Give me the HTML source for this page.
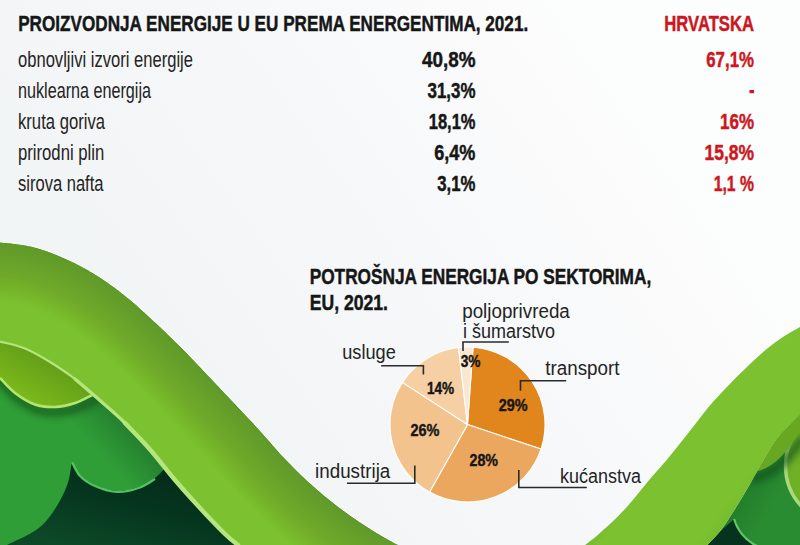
<!DOCTYPE html>
<html><head><meta charset="utf-8"><title>Energija EU 2021</title>
<style>
html,body{margin:0;padding:0;background:#f4f6f7;}
body{width:800px;height:545px;overflow:hidden;font-family:"Liberation Sans",sans-serif;}
svg{display:block;}
text{font-family:"Liberation Sans",sans-serif;}
.b{font-weight:bold;fill:#161616;stroke:#161616;stroke-width:0.45px;}
.r{font-weight:bold;fill:#cc1720;stroke:#cc1720;stroke-width:0.45px;}
.l{font-weight:normal;fill:#242424;}
</style></head><body>
<svg width="800" height="545" viewBox="0 0 800 545">
<defs>
<linearGradient id="bg" gradientUnits="userSpaceOnUse" x1="150" y1="470" x2="680" y2="90">
<stop offset="0" stop-color="#f1f4f5"/><stop offset="0.45" stop-color="#f5f7f8"/><stop offset="0.8" stop-color="#fbfbfc"/><stop offset="1" stop-color="#fcfdfd"/>
</linearGradient>
<linearGradient id="bandL" gradientUnits="userSpaceOnUse" x1="250" y1="330" x2="150" y2="440">
<stop offset="0" stop-color="#5c9a27"/><stop offset="0.45" stop-color="#6fae2b"/><stop offset="0.75" stop-color="#7cc230"/><stop offset="1" stop-color="#7cc230"/>
</linearGradient>
<linearGradient id="leafL" gradientUnits="userSpaceOnUse" x1="28" y1="405" x2="62" y2="348">
<stop offset="0" stop-color="#7dbb1c"/><stop offset="1" stop-color="#5a9417"/>
</linearGradient>
<linearGradient id="midL" gradientUnits="userSpaceOnUse" x1="60" y1="520" x2="160" y2="430">
<stop offset="0" stop-color="#2f9e37"/><stop offset="0.55" stop-color="#2f9e37"/><stop offset="1" stop-color="#1f6f2a"/>
</linearGradient>
<linearGradient id="darkL" gradientUnits="userSpaceOnUse" x1="150" y1="465" x2="125" y2="560">
<stop offset="0" stop-color="#032b1a"/><stop offset="0.5" stop-color="#06371f"/><stop offset="1" stop-color="#0c4927"/>
</linearGradient>
</defs>
<rect width="800" height="545" fill="url(#bg)"/>

<path d="M0.0,341.5 C4.2,342.7 16.7,345.1 25.0,348.5 C33.3,351.9 41.7,356.9 50.0,362.0 C58.3,367.1 66.7,372.6 75.0,379.0 C83.3,385.4 91.7,393.2 100.0,400.5 C108.3,407.8 116.7,414.8 125.0,423.0 C133.3,431.2 141.7,440.0 150.0,449.5 C158.3,459.0 166.7,470.2 175.0,480.0 C183.3,489.8 191.7,499.0 200.0,508.0 C208.3,517.0 218.7,527.8 225.0,534.0 C231.3,540.2 235.8,543.2 238.0,545.0 L238,545 L0,545 Z" fill="url(#midL)"/>
<path d="M7.0,545.0 C12.1,542.3 29.5,535.0 37.5,529.0 C45.5,523.0 50.0,516.5 55.0,509.0 C60.0,501.5 64.7,492.0 67.5,484.0 C70.3,476.0 71.2,464.8 72.0,461.0  C73.3,463.3 76.2,471.0 80.0,475.0 C83.8,479.0 88.8,482.3 95.0,485.0 C101.2,487.7 110.0,490.8 117.5,491.0 C125.0,491.2 133.8,488.7 140.0,486.5 C146.2,484.3 151.0,480.9 155.0,478.0 C159.0,475.1 162.5,470.5 164.0,469.0 L238,545 Z" fill="url(#darkL)"/>
<path d="M72.0,462.0 C73.3,464.3 76.2,472.0 80.0,476.0 C83.8,480.0 88.8,483.3 95.0,486.0 C101.2,488.7 110.0,491.8 117.5,492.0 C125.0,492.2 133.8,489.7 140.0,487.5 C146.2,485.3 152.5,480.4 155.0,479.0" fill="none" stroke="#5fd06c" stroke-width="2.2" opacity="0.9"/>
<filter id="bl4" x="-20%" y="-50%" width="140%" height="200%"><feGaussianBlur stdDeviation="3.5"/></filter>
<path d="M-10.0,365.0 C-8.3,367.2 -4.2,373.3 0.0,378.0 C4.2,382.7 9.2,388.6 15.0,393.0 C20.8,397.4 28.3,402.2 35.0,404.5 C41.7,406.8 48.3,407.2 55.0,407.0 C61.7,406.8 68.7,405.1 75.0,403.0 C81.3,400.9 88.2,398.3 93.0,394.5 C97.8,390.7 102.2,382.4 104.0,380.0" fill="none" stroke="#14561f" stroke-width="9" opacity="0.75" filter="url(#bl4)" transform="translate(2,5)"/>
<path d="M0,341  C4.2,342.7 16.7,345.1 25.0,348.5 C33.3,351.9 41.7,356.9 50.0,362.0 C58.3,367.1 66.7,372.6 75.0,379.0 C83.3,385.4 95.8,396.9 100.0,400.5 L93,394.5 L93.0,394.5 L75.0,403.0 L55.0,407.0 L35.0,404.5 L15.0,393.0 L0.0,378.0 Z" fill="url(#leafL)"/>
<path d="M0.0,378.0 C2.5,380.5 9.2,388.6 15.0,393.0 C20.8,397.4 28.3,402.2 35.0,404.5 C41.7,406.8 48.3,407.2 55.0,407.0 C61.7,406.8 68.7,405.1 75.0,403.0 C81.3,400.9 90.0,395.9 93.0,394.5" fill="none" stroke="#b4e66e" stroke-width="2.6"/>
<clipPath id="cbL"><path d="M0.0,242.5 C4.2,243.0 16.7,243.8 25.0,245.5 C33.3,247.2 40.8,249.1 50.0,252.5 C59.2,255.9 70.8,261.2 80.0,266.0 C89.2,270.8 96.7,275.3 105.0,281.0 C113.3,286.7 121.7,293.1 130.0,300.0 C138.3,306.9 146.7,314.8 155.0,322.5 C163.3,330.2 171.7,338.2 180.0,346.5 C188.3,354.8 196.7,363.8 205.0,372.5 C213.3,381.2 221.7,390.2 230.0,399.0 C238.3,407.8 245.8,415.5 255.0,425.5 C264.2,435.5 275.8,449.3 285.0,459.0 C294.2,468.7 301.7,475.9 310.0,483.5 C318.3,491.1 326.7,498.0 335.0,504.5 C343.3,511.0 351.7,516.9 360.0,522.5 C368.3,528.1 378.7,534.2 385.0,538.0 C391.3,541.8 395.8,543.8 398.0,545.0 L238,545 C235.8,543.2 231.3,540.2 225.0,534.0 C218.7,527.8 208.3,517.0 200.0,508.0 C191.7,499.0 183.3,489.8 175.0,480.0 C166.7,470.2 158.3,459.0 150.0,449.5 C141.7,440.0 133.3,431.2 125.0,423.0 C116.7,414.8 108.3,407.8 100.0,400.5 C91.7,393.2 83.3,385.4 75.0,379.0 C66.7,372.6 58.3,367.1 50.0,362.0 C41.7,356.9 33.3,351.9 25.0,348.5 C16.7,345.1 4.2,342.7 0.0,341.5 Z"/></clipPath>
<path d="M0.0,242.5 C4.2,243.0 16.7,243.8 25.0,245.5 C33.3,247.2 40.8,249.1 50.0,252.5 C59.2,255.9 70.8,261.2 80.0,266.0 C89.2,270.8 96.7,275.3 105.0,281.0 C113.3,286.7 121.7,293.1 130.0,300.0 C138.3,306.9 146.7,314.8 155.0,322.5 C163.3,330.2 171.7,338.2 180.0,346.5 C188.3,354.8 196.7,363.8 205.0,372.5 C213.3,381.2 221.7,390.2 230.0,399.0 C238.3,407.8 245.8,415.5 255.0,425.5 C264.2,435.5 275.8,449.3 285.0,459.0 C294.2,468.7 301.7,475.9 310.0,483.5 C318.3,491.1 326.7,498.0 335.0,504.5 C343.3,511.0 351.7,516.9 360.0,522.5 C368.3,528.1 378.7,534.2 385.0,538.0 C391.3,541.8 395.8,543.8 398.0,545.0" fill="none" stroke="#ffffff" stroke-width="2" opacity="0.7"/>
<path d="M0.0,242.5 C4.2,243.0 16.7,243.8 25.0,245.5 C33.3,247.2 40.8,249.1 50.0,252.5 C59.2,255.9 70.8,261.2 80.0,266.0 C89.2,270.8 96.7,275.3 105.0,281.0 C113.3,286.7 121.7,293.1 130.0,300.0 C138.3,306.9 146.7,314.8 155.0,322.5 C163.3,330.2 171.7,338.2 180.0,346.5 C188.3,354.8 196.7,363.8 205.0,372.5 C213.3,381.2 221.7,390.2 230.0,399.0 C238.3,407.8 245.8,415.5 255.0,425.5 C264.2,435.5 275.8,449.3 285.0,459.0 C294.2,468.7 301.7,475.9 310.0,483.5 C318.3,491.1 326.7,498.0 335.0,504.5 C343.3,511.0 351.7,516.9 360.0,522.5 C368.3,528.1 378.7,534.2 385.0,538.0 C391.3,541.8 395.8,543.8 398.0,545.0 L238,545 C235.8,543.2 231.3,540.2 225.0,534.0 C218.7,527.8 208.3,517.0 200.0,508.0 C191.7,499.0 183.3,489.8 175.0,480.0 C166.7,470.2 158.3,459.0 150.0,449.5 C141.7,440.0 133.3,431.2 125.0,423.0 C116.7,414.8 108.3,407.8 100.0,400.5 C91.7,393.2 83.3,385.4 75.0,379.0 C66.7,372.6 58.3,367.1 50.0,362.0 C41.7,356.9 33.3,351.9 25.0,348.5 C16.7,345.1 4.2,342.7 0.0,341.5 Z" fill="#7cc230"/>
<g clip-path="url(#cbL)">
<path d="M-40.0,240.0 C-33.3,240.4 -10.8,241.6 0.0,242.5 C10.8,243.4 16.7,243.8 25.0,245.5 C33.3,247.2 40.8,249.1 50.0,252.5 C59.2,255.9 70.8,261.2 80.0,266.0 C89.2,270.8 96.7,275.3 105.0,281.0 C113.3,286.7 121.7,293.1 130.0,300.0 C138.3,306.9 146.7,314.8 155.0,322.5 C163.3,330.2 171.7,338.2 180.0,346.5 C188.3,354.8 196.7,363.8 205.0,372.5 C213.3,381.2 221.7,390.2 230.0,399.0 C238.3,407.8 245.8,415.5 255.0,425.5 C264.2,435.5 275.8,449.3 285.0,459.0 C294.2,468.7 301.7,475.9 310.0,483.5 C318.3,491.1 326.7,498.0 335.0,504.5 C343.3,511.0 351.7,516.9 360.0,522.5 C368.3,528.1 378.7,534.2 385.0,538.0 C391.3,541.8 392.2,541.3 398.0,545.0 C403.8,548.7 416.3,557.5 420.0,560.0" fill="none" stroke="#4f8c22" stroke-width="116.0" opacity="0.022"/>
<path d="M-40.0,240.0 C-33.3,240.4 -10.8,241.6 0.0,242.5 C10.8,243.4 16.7,243.8 25.0,245.5 C33.3,247.2 40.8,249.1 50.0,252.5 C59.2,255.9 70.8,261.2 80.0,266.0 C89.2,270.8 96.7,275.3 105.0,281.0 C113.3,286.7 121.7,293.1 130.0,300.0 C138.3,306.9 146.7,314.8 155.0,322.5 C163.3,330.2 171.7,338.2 180.0,346.5 C188.3,354.8 196.7,363.8 205.0,372.5 C213.3,381.2 221.7,390.2 230.0,399.0 C238.3,407.8 245.8,415.5 255.0,425.5 C264.2,435.5 275.8,449.3 285.0,459.0 C294.2,468.7 301.7,475.9 310.0,483.5 C318.3,491.1 326.7,498.0 335.0,504.5 C343.3,511.0 351.7,516.9 360.0,522.5 C368.3,528.1 378.7,534.2 385.0,538.0 C391.3,541.8 392.2,541.3 398.0,545.0 C403.8,548.7 416.3,557.5 420.0,560.0" fill="none" stroke="#4f8c22" stroke-width="111.9" opacity="0.022"/>
<path d="M-40.0,240.0 C-33.3,240.4 -10.8,241.6 0.0,242.5 C10.8,243.4 16.7,243.8 25.0,245.5 C33.3,247.2 40.8,249.1 50.0,252.5 C59.2,255.9 70.8,261.2 80.0,266.0 C89.2,270.8 96.7,275.3 105.0,281.0 C113.3,286.7 121.7,293.1 130.0,300.0 C138.3,306.9 146.7,314.8 155.0,322.5 C163.3,330.2 171.7,338.2 180.0,346.5 C188.3,354.8 196.7,363.8 205.0,372.5 C213.3,381.2 221.7,390.2 230.0,399.0 C238.3,407.8 245.8,415.5 255.0,425.5 C264.2,435.5 275.8,449.3 285.0,459.0 C294.2,468.7 301.7,475.9 310.0,483.5 C318.3,491.1 326.7,498.0 335.0,504.5 C343.3,511.0 351.7,516.9 360.0,522.5 C368.3,528.1 378.7,534.2 385.0,538.0 C391.3,541.8 392.2,541.3 398.0,545.0 C403.8,548.7 416.3,557.5 420.0,560.0" fill="none" stroke="#4f8c22" stroke-width="107.7" opacity="0.022"/>
<path d="M-40.0,240.0 C-33.3,240.4 -10.8,241.6 0.0,242.5 C10.8,243.4 16.7,243.8 25.0,245.5 C33.3,247.2 40.8,249.1 50.0,252.5 C59.2,255.9 70.8,261.2 80.0,266.0 C89.2,270.8 96.7,275.3 105.0,281.0 C113.3,286.7 121.7,293.1 130.0,300.0 C138.3,306.9 146.7,314.8 155.0,322.5 C163.3,330.2 171.7,338.2 180.0,346.5 C188.3,354.8 196.7,363.8 205.0,372.5 C213.3,381.2 221.7,390.2 230.0,399.0 C238.3,407.8 245.8,415.5 255.0,425.5 C264.2,435.5 275.8,449.3 285.0,459.0 C294.2,468.7 301.7,475.9 310.0,483.5 C318.3,491.1 326.7,498.0 335.0,504.5 C343.3,511.0 351.7,516.9 360.0,522.5 C368.3,528.1 378.7,534.2 385.0,538.0 C391.3,541.8 392.2,541.3 398.0,545.0 C403.8,548.7 416.3,557.5 420.0,560.0" fill="none" stroke="#4f8c22" stroke-width="103.6" opacity="0.022"/>
<path d="M-40.0,240.0 C-33.3,240.4 -10.8,241.6 0.0,242.5 C10.8,243.4 16.7,243.8 25.0,245.5 C33.3,247.2 40.8,249.1 50.0,252.5 C59.2,255.9 70.8,261.2 80.0,266.0 C89.2,270.8 96.7,275.3 105.0,281.0 C113.3,286.7 121.7,293.1 130.0,300.0 C138.3,306.9 146.7,314.8 155.0,322.5 C163.3,330.2 171.7,338.2 180.0,346.5 C188.3,354.8 196.7,363.8 205.0,372.5 C213.3,381.2 221.7,390.2 230.0,399.0 C238.3,407.8 245.8,415.5 255.0,425.5 C264.2,435.5 275.8,449.3 285.0,459.0 C294.2,468.7 301.7,475.9 310.0,483.5 C318.3,491.1 326.7,498.0 335.0,504.5 C343.3,511.0 351.7,516.9 360.0,522.5 C368.3,528.1 378.7,534.2 385.0,538.0 C391.3,541.8 392.2,541.3 398.0,545.0 C403.8,548.7 416.3,557.5 420.0,560.0" fill="none" stroke="#4f8c22" stroke-width="99.4" opacity="0.022"/>
<path d="M-40.0,240.0 C-33.3,240.4 -10.8,241.6 0.0,242.5 C10.8,243.4 16.7,243.8 25.0,245.5 C33.3,247.2 40.8,249.1 50.0,252.5 C59.2,255.9 70.8,261.2 80.0,266.0 C89.2,270.8 96.7,275.3 105.0,281.0 C113.3,286.7 121.7,293.1 130.0,300.0 C138.3,306.9 146.7,314.8 155.0,322.5 C163.3,330.2 171.7,338.2 180.0,346.5 C188.3,354.8 196.7,363.8 205.0,372.5 C213.3,381.2 221.7,390.2 230.0,399.0 C238.3,407.8 245.8,415.5 255.0,425.5 C264.2,435.5 275.8,449.3 285.0,459.0 C294.2,468.7 301.7,475.9 310.0,483.5 C318.3,491.1 326.7,498.0 335.0,504.5 C343.3,511.0 351.7,516.9 360.0,522.5 C368.3,528.1 378.7,534.2 385.0,538.0 C391.3,541.8 392.2,541.3 398.0,545.0 C403.8,548.7 416.3,557.5 420.0,560.0" fill="none" stroke="#4f8c22" stroke-width="95.3" opacity="0.022"/>
<path d="M-40.0,240.0 C-33.3,240.4 -10.8,241.6 0.0,242.5 C10.8,243.4 16.7,243.8 25.0,245.5 C33.3,247.2 40.8,249.1 50.0,252.5 C59.2,255.9 70.8,261.2 80.0,266.0 C89.2,270.8 96.7,275.3 105.0,281.0 C113.3,286.7 121.7,293.1 130.0,300.0 C138.3,306.9 146.7,314.8 155.0,322.5 C163.3,330.2 171.7,338.2 180.0,346.5 C188.3,354.8 196.7,363.8 205.0,372.5 C213.3,381.2 221.7,390.2 230.0,399.0 C238.3,407.8 245.8,415.5 255.0,425.5 C264.2,435.5 275.8,449.3 285.0,459.0 C294.2,468.7 301.7,475.9 310.0,483.5 C318.3,491.1 326.7,498.0 335.0,504.5 C343.3,511.0 351.7,516.9 360.0,522.5 C368.3,528.1 378.7,534.2 385.0,538.0 C391.3,541.8 392.2,541.3 398.0,545.0 C403.8,548.7 416.3,557.5 420.0,560.0" fill="none" stroke="#4f8c22" stroke-width="91.1" opacity="0.022"/>
<path d="M-40.0,240.0 C-33.3,240.4 -10.8,241.6 0.0,242.5 C10.8,243.4 16.7,243.8 25.0,245.5 C33.3,247.2 40.8,249.1 50.0,252.5 C59.2,255.9 70.8,261.2 80.0,266.0 C89.2,270.8 96.7,275.3 105.0,281.0 C113.3,286.7 121.7,293.1 130.0,300.0 C138.3,306.9 146.7,314.8 155.0,322.5 C163.3,330.2 171.7,338.2 180.0,346.5 C188.3,354.8 196.7,363.8 205.0,372.5 C213.3,381.2 221.7,390.2 230.0,399.0 C238.3,407.8 245.8,415.5 255.0,425.5 C264.2,435.5 275.8,449.3 285.0,459.0 C294.2,468.7 301.7,475.9 310.0,483.5 C318.3,491.1 326.7,498.0 335.0,504.5 C343.3,511.0 351.7,516.9 360.0,522.5 C368.3,528.1 378.7,534.2 385.0,538.0 C391.3,541.8 392.2,541.3 398.0,545.0 C403.8,548.7 416.3,557.5 420.0,560.0" fill="none" stroke="#4f8c22" stroke-width="87.0" opacity="0.022"/>
<path d="M-40.0,240.0 C-33.3,240.4 -10.8,241.6 0.0,242.5 C10.8,243.4 16.7,243.8 25.0,245.5 C33.3,247.2 40.8,249.1 50.0,252.5 C59.2,255.9 70.8,261.2 80.0,266.0 C89.2,270.8 96.7,275.3 105.0,281.0 C113.3,286.7 121.7,293.1 130.0,300.0 C138.3,306.9 146.7,314.8 155.0,322.5 C163.3,330.2 171.7,338.2 180.0,346.5 C188.3,354.8 196.7,363.8 205.0,372.5 C213.3,381.2 221.7,390.2 230.0,399.0 C238.3,407.8 245.8,415.5 255.0,425.5 C264.2,435.5 275.8,449.3 285.0,459.0 C294.2,468.7 301.7,475.9 310.0,483.5 C318.3,491.1 326.7,498.0 335.0,504.5 C343.3,511.0 351.7,516.9 360.0,522.5 C368.3,528.1 378.7,534.2 385.0,538.0 C391.3,541.8 392.2,541.3 398.0,545.0 C403.8,548.7 416.3,557.5 420.0,560.0" fill="none" stroke="#4f8c22" stroke-width="82.9" opacity="0.022"/>
<path d="M-40.0,240.0 C-33.3,240.4 -10.8,241.6 0.0,242.5 C10.8,243.4 16.7,243.8 25.0,245.5 C33.3,247.2 40.8,249.1 50.0,252.5 C59.2,255.9 70.8,261.2 80.0,266.0 C89.2,270.8 96.7,275.3 105.0,281.0 C113.3,286.7 121.7,293.1 130.0,300.0 C138.3,306.9 146.7,314.8 155.0,322.5 C163.3,330.2 171.7,338.2 180.0,346.5 C188.3,354.8 196.7,363.8 205.0,372.5 C213.3,381.2 221.7,390.2 230.0,399.0 C238.3,407.8 245.8,415.5 255.0,425.5 C264.2,435.5 275.8,449.3 285.0,459.0 C294.2,468.7 301.7,475.9 310.0,483.5 C318.3,491.1 326.7,498.0 335.0,504.5 C343.3,511.0 351.7,516.9 360.0,522.5 C368.3,528.1 378.7,534.2 385.0,538.0 C391.3,541.8 392.2,541.3 398.0,545.0 C403.8,548.7 416.3,557.5 420.0,560.0" fill="none" stroke="#4f8c22" stroke-width="78.7" opacity="0.022"/>
<path d="M-40.0,240.0 C-33.3,240.4 -10.8,241.6 0.0,242.5 C10.8,243.4 16.7,243.8 25.0,245.5 C33.3,247.2 40.8,249.1 50.0,252.5 C59.2,255.9 70.8,261.2 80.0,266.0 C89.2,270.8 96.7,275.3 105.0,281.0 C113.3,286.7 121.7,293.1 130.0,300.0 C138.3,306.9 146.7,314.8 155.0,322.5 C163.3,330.2 171.7,338.2 180.0,346.5 C188.3,354.8 196.7,363.8 205.0,372.5 C213.3,381.2 221.7,390.2 230.0,399.0 C238.3,407.8 245.8,415.5 255.0,425.5 C264.2,435.5 275.8,449.3 285.0,459.0 C294.2,468.7 301.7,475.9 310.0,483.5 C318.3,491.1 326.7,498.0 335.0,504.5 C343.3,511.0 351.7,516.9 360.0,522.5 C368.3,528.1 378.7,534.2 385.0,538.0 C391.3,541.8 392.2,541.3 398.0,545.0 C403.8,548.7 416.3,557.5 420.0,560.0" fill="none" stroke="#4f8c22" stroke-width="74.6" opacity="0.022"/>
<path d="M-40.0,240.0 C-33.3,240.4 -10.8,241.6 0.0,242.5 C10.8,243.4 16.7,243.8 25.0,245.5 C33.3,247.2 40.8,249.1 50.0,252.5 C59.2,255.9 70.8,261.2 80.0,266.0 C89.2,270.8 96.7,275.3 105.0,281.0 C113.3,286.7 121.7,293.1 130.0,300.0 C138.3,306.9 146.7,314.8 155.0,322.5 C163.3,330.2 171.7,338.2 180.0,346.5 C188.3,354.8 196.7,363.8 205.0,372.5 C213.3,381.2 221.7,390.2 230.0,399.0 C238.3,407.8 245.8,415.5 255.0,425.5 C264.2,435.5 275.8,449.3 285.0,459.0 C294.2,468.7 301.7,475.9 310.0,483.5 C318.3,491.1 326.7,498.0 335.0,504.5 C343.3,511.0 351.7,516.9 360.0,522.5 C368.3,528.1 378.7,534.2 385.0,538.0 C391.3,541.8 392.2,541.3 398.0,545.0 C403.8,548.7 416.3,557.5 420.0,560.0" fill="none" stroke="#4f8c22" stroke-width="70.4" opacity="0.022"/>
<path d="M-40.0,240.0 C-33.3,240.4 -10.8,241.6 0.0,242.5 C10.8,243.4 16.7,243.8 25.0,245.5 C33.3,247.2 40.8,249.1 50.0,252.5 C59.2,255.9 70.8,261.2 80.0,266.0 C89.2,270.8 96.7,275.3 105.0,281.0 C113.3,286.7 121.7,293.1 130.0,300.0 C138.3,306.9 146.7,314.8 155.0,322.5 C163.3,330.2 171.7,338.2 180.0,346.5 C188.3,354.8 196.7,363.8 205.0,372.5 C213.3,381.2 221.7,390.2 230.0,399.0 C238.3,407.8 245.8,415.5 255.0,425.5 C264.2,435.5 275.8,449.3 285.0,459.0 C294.2,468.7 301.7,475.9 310.0,483.5 C318.3,491.1 326.7,498.0 335.0,504.5 C343.3,511.0 351.7,516.9 360.0,522.5 C368.3,528.1 378.7,534.2 385.0,538.0 C391.3,541.8 392.2,541.3 398.0,545.0 C403.8,548.7 416.3,557.5 420.0,560.0" fill="none" stroke="#4f8c22" stroke-width="66.3" opacity="0.022"/>
<path d="M-40.0,240.0 C-33.3,240.4 -10.8,241.6 0.0,242.5 C10.8,243.4 16.7,243.8 25.0,245.5 C33.3,247.2 40.8,249.1 50.0,252.5 C59.2,255.9 70.8,261.2 80.0,266.0 C89.2,270.8 96.7,275.3 105.0,281.0 C113.3,286.7 121.7,293.1 130.0,300.0 C138.3,306.9 146.7,314.8 155.0,322.5 C163.3,330.2 171.7,338.2 180.0,346.5 C188.3,354.8 196.7,363.8 205.0,372.5 C213.3,381.2 221.7,390.2 230.0,399.0 C238.3,407.8 245.8,415.5 255.0,425.5 C264.2,435.5 275.8,449.3 285.0,459.0 C294.2,468.7 301.7,475.9 310.0,483.5 C318.3,491.1 326.7,498.0 335.0,504.5 C343.3,511.0 351.7,516.9 360.0,522.5 C368.3,528.1 378.7,534.2 385.0,538.0 C391.3,541.8 392.2,541.3 398.0,545.0 C403.8,548.7 416.3,557.5 420.0,560.0" fill="none" stroke="#4f8c22" stroke-width="62.1" opacity="0.022"/>
<path d="M-40.0,240.0 C-33.3,240.4 -10.8,241.6 0.0,242.5 C10.8,243.4 16.7,243.8 25.0,245.5 C33.3,247.2 40.8,249.1 50.0,252.5 C59.2,255.9 70.8,261.2 80.0,266.0 C89.2,270.8 96.7,275.3 105.0,281.0 C113.3,286.7 121.7,293.1 130.0,300.0 C138.3,306.9 146.7,314.8 155.0,322.5 C163.3,330.2 171.7,338.2 180.0,346.5 C188.3,354.8 196.7,363.8 205.0,372.5 C213.3,381.2 221.7,390.2 230.0,399.0 C238.3,407.8 245.8,415.5 255.0,425.5 C264.2,435.5 275.8,449.3 285.0,459.0 C294.2,468.7 301.7,475.9 310.0,483.5 C318.3,491.1 326.7,498.0 335.0,504.5 C343.3,511.0 351.7,516.9 360.0,522.5 C368.3,528.1 378.7,534.2 385.0,538.0 C391.3,541.8 392.2,541.3 398.0,545.0 C403.8,548.7 416.3,557.5 420.0,560.0" fill="none" stroke="#4f8c22" stroke-width="58.0" opacity="0.022"/>
<path d="M-40.0,240.0 C-33.3,240.4 -10.8,241.6 0.0,242.5 C10.8,243.4 16.7,243.8 25.0,245.5 C33.3,247.2 40.8,249.1 50.0,252.5 C59.2,255.9 70.8,261.2 80.0,266.0 C89.2,270.8 96.7,275.3 105.0,281.0 C113.3,286.7 121.7,293.1 130.0,300.0 C138.3,306.9 146.7,314.8 155.0,322.5 C163.3,330.2 171.7,338.2 180.0,346.5 C188.3,354.8 196.7,363.8 205.0,372.5 C213.3,381.2 221.7,390.2 230.0,399.0 C238.3,407.8 245.8,415.5 255.0,425.5 C264.2,435.5 275.8,449.3 285.0,459.0 C294.2,468.7 301.7,475.9 310.0,483.5 C318.3,491.1 326.7,498.0 335.0,504.5 C343.3,511.0 351.7,516.9 360.0,522.5 C368.3,528.1 378.7,534.2 385.0,538.0 C391.3,541.8 392.2,541.3 398.0,545.0 C403.8,548.7 416.3,557.5 420.0,560.0" fill="none" stroke="#4f8c22" stroke-width="53.9" opacity="0.022"/>
<path d="M-40.0,240.0 C-33.3,240.4 -10.8,241.6 0.0,242.5 C10.8,243.4 16.7,243.8 25.0,245.5 C33.3,247.2 40.8,249.1 50.0,252.5 C59.2,255.9 70.8,261.2 80.0,266.0 C89.2,270.8 96.7,275.3 105.0,281.0 C113.3,286.7 121.7,293.1 130.0,300.0 C138.3,306.9 146.7,314.8 155.0,322.5 C163.3,330.2 171.7,338.2 180.0,346.5 C188.3,354.8 196.7,363.8 205.0,372.5 C213.3,381.2 221.7,390.2 230.0,399.0 C238.3,407.8 245.8,415.5 255.0,425.5 C264.2,435.5 275.8,449.3 285.0,459.0 C294.2,468.7 301.7,475.9 310.0,483.5 C318.3,491.1 326.7,498.0 335.0,504.5 C343.3,511.0 351.7,516.9 360.0,522.5 C368.3,528.1 378.7,534.2 385.0,538.0 C391.3,541.8 392.2,541.3 398.0,545.0 C403.8,548.7 416.3,557.5 420.0,560.0" fill="none" stroke="#4f8c22" stroke-width="49.7" opacity="0.022"/>
<path d="M-40.0,240.0 C-33.3,240.4 -10.8,241.6 0.0,242.5 C10.8,243.4 16.7,243.8 25.0,245.5 C33.3,247.2 40.8,249.1 50.0,252.5 C59.2,255.9 70.8,261.2 80.0,266.0 C89.2,270.8 96.7,275.3 105.0,281.0 C113.3,286.7 121.7,293.1 130.0,300.0 C138.3,306.9 146.7,314.8 155.0,322.5 C163.3,330.2 171.7,338.2 180.0,346.5 C188.3,354.8 196.7,363.8 205.0,372.5 C213.3,381.2 221.7,390.2 230.0,399.0 C238.3,407.8 245.8,415.5 255.0,425.5 C264.2,435.5 275.8,449.3 285.0,459.0 C294.2,468.7 301.7,475.9 310.0,483.5 C318.3,491.1 326.7,498.0 335.0,504.5 C343.3,511.0 351.7,516.9 360.0,522.5 C368.3,528.1 378.7,534.2 385.0,538.0 C391.3,541.8 392.2,541.3 398.0,545.0 C403.8,548.7 416.3,557.5 420.0,560.0" fill="none" stroke="#4f8c22" stroke-width="45.6" opacity="0.022"/>
<path d="M-40.0,240.0 C-33.3,240.4 -10.8,241.6 0.0,242.5 C10.8,243.4 16.7,243.8 25.0,245.5 C33.3,247.2 40.8,249.1 50.0,252.5 C59.2,255.9 70.8,261.2 80.0,266.0 C89.2,270.8 96.7,275.3 105.0,281.0 C113.3,286.7 121.7,293.1 130.0,300.0 C138.3,306.9 146.7,314.8 155.0,322.5 C163.3,330.2 171.7,338.2 180.0,346.5 C188.3,354.8 196.7,363.8 205.0,372.5 C213.3,381.2 221.7,390.2 230.0,399.0 C238.3,407.8 245.8,415.5 255.0,425.5 C264.2,435.5 275.8,449.3 285.0,459.0 C294.2,468.7 301.7,475.9 310.0,483.5 C318.3,491.1 326.7,498.0 335.0,504.5 C343.3,511.0 351.7,516.9 360.0,522.5 C368.3,528.1 378.7,534.2 385.0,538.0 C391.3,541.8 392.2,541.3 398.0,545.0 C403.8,548.7 416.3,557.5 420.0,560.0" fill="none" stroke="#4f8c22" stroke-width="41.4" opacity="0.022"/>
<path d="M-40.0,240.0 C-33.3,240.4 -10.8,241.6 0.0,242.5 C10.8,243.4 16.7,243.8 25.0,245.5 C33.3,247.2 40.8,249.1 50.0,252.5 C59.2,255.9 70.8,261.2 80.0,266.0 C89.2,270.8 96.7,275.3 105.0,281.0 C113.3,286.7 121.7,293.1 130.0,300.0 C138.3,306.9 146.7,314.8 155.0,322.5 C163.3,330.2 171.7,338.2 180.0,346.5 C188.3,354.8 196.7,363.8 205.0,372.5 C213.3,381.2 221.7,390.2 230.0,399.0 C238.3,407.8 245.8,415.5 255.0,425.5 C264.2,435.5 275.8,449.3 285.0,459.0 C294.2,468.7 301.7,475.9 310.0,483.5 C318.3,491.1 326.7,498.0 335.0,504.5 C343.3,511.0 351.7,516.9 360.0,522.5 C368.3,528.1 378.7,534.2 385.0,538.0 C391.3,541.8 392.2,541.3 398.0,545.0 C403.8,548.7 416.3,557.5 420.0,560.0" fill="none" stroke="#4f8c22" stroke-width="37.3" opacity="0.022"/>
<path d="M-40.0,240.0 C-33.3,240.4 -10.8,241.6 0.0,242.5 C10.8,243.4 16.7,243.8 25.0,245.5 C33.3,247.2 40.8,249.1 50.0,252.5 C59.2,255.9 70.8,261.2 80.0,266.0 C89.2,270.8 96.7,275.3 105.0,281.0 C113.3,286.7 121.7,293.1 130.0,300.0 C138.3,306.9 146.7,314.8 155.0,322.5 C163.3,330.2 171.7,338.2 180.0,346.5 C188.3,354.8 196.7,363.8 205.0,372.5 C213.3,381.2 221.7,390.2 230.0,399.0 C238.3,407.8 245.8,415.5 255.0,425.5 C264.2,435.5 275.8,449.3 285.0,459.0 C294.2,468.7 301.7,475.9 310.0,483.5 C318.3,491.1 326.7,498.0 335.0,504.5 C343.3,511.0 351.7,516.9 360.0,522.5 C368.3,528.1 378.7,534.2 385.0,538.0 C391.3,541.8 392.2,541.3 398.0,545.0 C403.8,548.7 416.3,557.5 420.0,560.0" fill="none" stroke="#4f8c22" stroke-width="33.1" opacity="0.022"/>
<path d="M-40.0,240.0 C-33.3,240.4 -10.8,241.6 0.0,242.5 C10.8,243.4 16.7,243.8 25.0,245.5 C33.3,247.2 40.8,249.1 50.0,252.5 C59.2,255.9 70.8,261.2 80.0,266.0 C89.2,270.8 96.7,275.3 105.0,281.0 C113.3,286.7 121.7,293.1 130.0,300.0 C138.3,306.9 146.7,314.8 155.0,322.5 C163.3,330.2 171.7,338.2 180.0,346.5 C188.3,354.8 196.7,363.8 205.0,372.5 C213.3,381.2 221.7,390.2 230.0,399.0 C238.3,407.8 245.8,415.5 255.0,425.5 C264.2,435.5 275.8,449.3 285.0,459.0 C294.2,468.7 301.7,475.9 310.0,483.5 C318.3,491.1 326.7,498.0 335.0,504.5 C343.3,511.0 351.7,516.9 360.0,522.5 C368.3,528.1 378.7,534.2 385.0,538.0 C391.3,541.8 392.2,541.3 398.0,545.0 C403.8,548.7 416.3,557.5 420.0,560.0" fill="none" stroke="#4f8c22" stroke-width="29.0" opacity="0.022"/>
<path d="M-40.0,240.0 C-33.3,240.4 -10.8,241.6 0.0,242.5 C10.8,243.4 16.7,243.8 25.0,245.5 C33.3,247.2 40.8,249.1 50.0,252.5 C59.2,255.9 70.8,261.2 80.0,266.0 C89.2,270.8 96.7,275.3 105.0,281.0 C113.3,286.7 121.7,293.1 130.0,300.0 C138.3,306.9 146.7,314.8 155.0,322.5 C163.3,330.2 171.7,338.2 180.0,346.5 C188.3,354.8 196.7,363.8 205.0,372.5 C213.3,381.2 221.7,390.2 230.0,399.0 C238.3,407.8 245.8,415.5 255.0,425.5 C264.2,435.5 275.8,449.3 285.0,459.0 C294.2,468.7 301.7,475.9 310.0,483.5 C318.3,491.1 326.7,498.0 335.0,504.5 C343.3,511.0 351.7,516.9 360.0,522.5 C368.3,528.1 378.7,534.2 385.0,538.0 C391.3,541.8 392.2,541.3 398.0,545.0 C403.8,548.7 416.3,557.5 420.0,560.0" fill="none" stroke="#4f8c22" stroke-width="24.9" opacity="0.022"/>
<path d="M-40.0,240.0 C-33.3,240.4 -10.8,241.6 0.0,242.5 C10.8,243.4 16.7,243.8 25.0,245.5 C33.3,247.2 40.8,249.1 50.0,252.5 C59.2,255.9 70.8,261.2 80.0,266.0 C89.2,270.8 96.7,275.3 105.0,281.0 C113.3,286.7 121.7,293.1 130.0,300.0 C138.3,306.9 146.7,314.8 155.0,322.5 C163.3,330.2 171.7,338.2 180.0,346.5 C188.3,354.8 196.7,363.8 205.0,372.5 C213.3,381.2 221.7,390.2 230.0,399.0 C238.3,407.8 245.8,415.5 255.0,425.5 C264.2,435.5 275.8,449.3 285.0,459.0 C294.2,468.7 301.7,475.9 310.0,483.5 C318.3,491.1 326.7,498.0 335.0,504.5 C343.3,511.0 351.7,516.9 360.0,522.5 C368.3,528.1 378.7,534.2 385.0,538.0 C391.3,541.8 392.2,541.3 398.0,545.0 C403.8,548.7 416.3,557.5 420.0,560.0" fill="none" stroke="#4f8c22" stroke-width="20.7" opacity="0.022"/>
<path d="M-40.0,240.0 C-33.3,240.4 -10.8,241.6 0.0,242.5 C10.8,243.4 16.7,243.8 25.0,245.5 C33.3,247.2 40.8,249.1 50.0,252.5 C59.2,255.9 70.8,261.2 80.0,266.0 C89.2,270.8 96.7,275.3 105.0,281.0 C113.3,286.7 121.7,293.1 130.0,300.0 C138.3,306.9 146.7,314.8 155.0,322.5 C163.3,330.2 171.7,338.2 180.0,346.5 C188.3,354.8 196.7,363.8 205.0,372.5 C213.3,381.2 221.7,390.2 230.0,399.0 C238.3,407.8 245.8,415.5 255.0,425.5 C264.2,435.5 275.8,449.3 285.0,459.0 C294.2,468.7 301.7,475.9 310.0,483.5 C318.3,491.1 326.7,498.0 335.0,504.5 C343.3,511.0 351.7,516.9 360.0,522.5 C368.3,528.1 378.7,534.2 385.0,538.0 C391.3,541.8 392.2,541.3 398.0,545.0 C403.8,548.7 416.3,557.5 420.0,560.0" fill="none" stroke="#4f8c22" stroke-width="16.6" opacity="0.022"/>
<path d="M-40.0,240.0 C-33.3,240.4 -10.8,241.6 0.0,242.5 C10.8,243.4 16.7,243.8 25.0,245.5 C33.3,247.2 40.8,249.1 50.0,252.5 C59.2,255.9 70.8,261.2 80.0,266.0 C89.2,270.8 96.7,275.3 105.0,281.0 C113.3,286.7 121.7,293.1 130.0,300.0 C138.3,306.9 146.7,314.8 155.0,322.5 C163.3,330.2 171.7,338.2 180.0,346.5 C188.3,354.8 196.7,363.8 205.0,372.5 C213.3,381.2 221.7,390.2 230.0,399.0 C238.3,407.8 245.8,415.5 255.0,425.5 C264.2,435.5 275.8,449.3 285.0,459.0 C294.2,468.7 301.7,475.9 310.0,483.5 C318.3,491.1 326.7,498.0 335.0,504.5 C343.3,511.0 351.7,516.9 360.0,522.5 C368.3,528.1 378.7,534.2 385.0,538.0 C391.3,541.8 392.2,541.3 398.0,545.0 C403.8,548.7 416.3,557.5 420.0,560.0" fill="none" stroke="#4f8c22" stroke-width="12.4" opacity="0.022"/>
<path d="M-40.0,240.0 C-33.3,240.4 -10.8,241.6 0.0,242.5 C10.8,243.4 16.7,243.8 25.0,245.5 C33.3,247.2 40.8,249.1 50.0,252.5 C59.2,255.9 70.8,261.2 80.0,266.0 C89.2,270.8 96.7,275.3 105.0,281.0 C113.3,286.7 121.7,293.1 130.0,300.0 C138.3,306.9 146.7,314.8 155.0,322.5 C163.3,330.2 171.7,338.2 180.0,346.5 C188.3,354.8 196.7,363.8 205.0,372.5 C213.3,381.2 221.7,390.2 230.0,399.0 C238.3,407.8 245.8,415.5 255.0,425.5 C264.2,435.5 275.8,449.3 285.0,459.0 C294.2,468.7 301.7,475.9 310.0,483.5 C318.3,491.1 326.7,498.0 335.0,504.5 C343.3,511.0 351.7,516.9 360.0,522.5 C368.3,528.1 378.7,534.2 385.0,538.0 C391.3,541.8 392.2,541.3 398.0,545.0 C403.8,548.7 416.3,557.5 420.0,560.0" fill="none" stroke="#4f8c22" stroke-width="8.3" opacity="0.022"/>
<path d="M-40.0,240.0 C-33.3,240.4 -10.8,241.6 0.0,242.5 C10.8,243.4 16.7,243.8 25.0,245.5 C33.3,247.2 40.8,249.1 50.0,252.5 C59.2,255.9 70.8,261.2 80.0,266.0 C89.2,270.8 96.7,275.3 105.0,281.0 C113.3,286.7 121.7,293.1 130.0,300.0 C138.3,306.9 146.7,314.8 155.0,322.5 C163.3,330.2 171.7,338.2 180.0,346.5 C188.3,354.8 196.7,363.8 205.0,372.5 C213.3,381.2 221.7,390.2 230.0,399.0 C238.3,407.8 245.8,415.5 255.0,425.5 C264.2,435.5 275.8,449.3 285.0,459.0 C294.2,468.7 301.7,475.9 310.0,483.5 C318.3,491.1 326.7,498.0 335.0,504.5 C343.3,511.0 351.7,516.9 360.0,522.5 C368.3,528.1 378.7,534.2 385.0,538.0 C391.3,541.8 392.2,541.3 398.0,545.0 C403.8,548.7 416.3,557.5 420.0,560.0" fill="none" stroke="#4f8c22" stroke-width="4.1" opacity="0.022"/>
</g>
<path d="M0.0,341.5 C4.2,342.7 16.7,345.1 25.0,348.5 C33.3,351.9 41.7,356.9 50.0,362.0 C58.3,367.1 66.7,372.6 75.0,379.0 C83.3,385.4 91.7,393.2 100.0,400.5 C108.3,407.8 116.7,414.8 125.0,423.0 C133.3,431.2 141.7,440.0 150.0,449.5 C158.3,459.0 166.7,470.2 175.0,480.0 C183.3,489.8 191.7,499.0 200.0,508.0 C208.3,517.0 218.7,527.8 225.0,534.0 C231.3,540.2 235.8,543.2 238.0,545.0" fill="none" stroke="#b5e67d" stroke-width="2.2"/>
<path d="M75.0,379.0 C79.2,382.6 91.7,393.2 100.0,400.5 C108.3,407.8 116.7,414.8 125.0,423.0 C133.3,431.2 141.7,440.0 150.0,449.5 C158.3,459.0 166.7,470.2 175.0,480.0 C183.3,489.8 191.7,499.0 200.0,508.0 C208.3,517.0 218.7,527.8 225.0,534.0 C231.3,540.2 235.8,543.2 238.0,545.0" fill="none" stroke="#b5e67d" stroke-width="3.3" stroke-linecap="round"/>
<path d="M125.0,423.0 C129.2,427.4 141.7,440.0 150.0,449.5 C158.3,459.0 166.7,470.2 175.0,480.0 C183.3,489.8 191.7,499.0 200.0,508.0 C208.3,517.0 218.7,527.8 225.0,534.0 C231.3,540.2 235.8,543.2 238.0,545.0" fill="none" stroke="#b5e67d" stroke-width="4.4" stroke-linecap="round"/>
<linearGradient id="midR" gradientUnits="userSpaceOnUse" x1="735" y1="480" x2="775" y2="505"><stop offset="0" stop-color="#1f782a"/><stop offset="1" stop-color="#2a8c31"/></linearGradient>
<path d="M815.0,399.0 C812.5,401.5 804.7,409.2 800.0,414.0 C795.3,418.8 791.2,422.9 787.0,427.5 C782.8,432.1 779.5,435.0 775.0,441.5 C770.5,448.0 764.2,459.4 760.0,466.5 C755.8,473.6 754.2,476.9 750.0,484.0 C745.8,491.1 740.0,501.1 735.0,509.0 C730.0,516.9 724.6,525.5 720.0,531.5 C715.4,537.5 709.6,542.8 707.5,545.0 L707.5,560 L830,560 Z" fill="url(#midR)"/>
<path d="M700,560 L707.5,545 L720,531.5 L734,519 C738,532 747,541 757,546 L757,560 Z" fill="#05331d"/>
<path d="M734,519 C738,532 747,541 757,546" fill="none" stroke="#63c66c" stroke-width="2.3"/>
<circle cx="844.5" cy="466" r="60" fill="#6fb027"/>
<circle cx="844.5" cy="466" r="59" fill="none" stroke="#a9d97c" stroke-width="3.4"/>
<path d="M750,474 C770,470 786,458 802,432" fill="none" stroke="#0f4d1c" stroke-width="9" opacity="0.7" filter="url(#bl4)" transform="translate(1,5)"/>
<path d="M815.0,399.0 C812.5,401.5 804.7,409.2 800.0,414.0 C795.3,418.8 791.2,422.9 787.0,427.5 C782.8,432.1 779.5,435.0 775.0,441.5 C770.5,448.0 762.5,462.3 760.0,466.5 L757.5,471 C770,468.5 786,456 800,431 L830,400 Z" fill="#68a722"/>
<linearGradient id="bandR" gradientUnits="userSpaceOnUse" x1="660" y1="420" x2="760" y2="495"><stop offset="0" stop-color="#6fb02c"/><stop offset="0.22" stop-color="#7cc230"/><stop offset="0.8" stop-color="#7cc230"/><stop offset="1" stop-color="#74b92d"/></linearGradient>
<path d="M830.0,312.0 C825.0,314.5 809.2,321.9 800.0,327.0 C790.8,332.1 783.3,336.3 775.0,342.5 C766.7,348.7 758.3,356.2 750.0,364.0 C741.7,371.8 732.2,381.5 725.0,389.0 C717.8,396.5 713.2,401.5 707.0,409.0 C700.8,416.5 694.1,425.7 687.5,434.0 C680.9,442.3 673.8,451.5 667.5,459.0 C661.2,466.5 657.1,470.7 650.0,479.0 C642.9,487.3 633.3,500.0 625.0,509.0 C616.7,518.0 606.7,527.0 600.0,533.0 C593.3,539.0 587.5,543.0 585.0,545.0 L707.5,545 C709.6,542.8 715.4,537.5 720.0,531.5 C724.6,525.5 730.0,516.9 735.0,509.0 C740.0,501.1 745.8,491.1 750.0,484.0 C754.2,476.9 755.8,473.6 760.0,466.5 C764.2,459.4 770.5,448.0 775.0,441.5 C779.5,435.0 782.8,432.1 787.0,427.5 C791.2,422.9 795.3,418.8 800.0,414.0 C804.7,409.2 812.5,401.5 815.0,399.0 Z" fill="url(#bandR)"/>
<text x="18.20" y="30.50" class="b" font-size="21.2" text-anchor="start" textLength="510.0" lengthAdjust="spacingAndGlyphs">PROIZVODNJA ENERGIJE U EU PREMA ENERGENTIMA, 2021.</text>
<text x="664.25" y="30.50" class="r" font-size="21.2" text-anchor="start" textLength="89.8" lengthAdjust="spacingAndGlyphs">HRVATSKA</text>
<text x="18.00" y="67.40" class="l" font-size="21.5" text-anchor="start" textLength="175.0" lengthAdjust="spacingAndGlyphs">obnovljivi izvori energije</text>
<text x="422.00" y="67.40" class="b" font-size="21.5" text-anchor="start" textLength="53.5" lengthAdjust="spacingAndGlyphs">40,8%</text>
<text x="706.25" y="67.40" class="r" font-size="21.5" text-anchor="start" textLength="47.8" lengthAdjust="spacingAndGlyphs">67,1%</text>
<text x="18.00" y="98.20" class="l" font-size="21.5" text-anchor="start" textLength="133.0" lengthAdjust="spacingAndGlyphs">nuklearna energija</text>
<text x="427.50" y="98.20" class="b" font-size="21.5" text-anchor="start" textLength="48.0" lengthAdjust="spacingAndGlyphs">31,3%</text>
<rect x="749.5" y="90.0" width="4.5" height="3.2" fill="#cc1720"/>
<text x="18.00" y="129.00" class="l" font-size="21.5" text-anchor="start" textLength="87.0" lengthAdjust="spacingAndGlyphs">kruta goriva</text>
<text x="428.75" y="129.00" class="b" font-size="21.5" text-anchor="start" textLength="46.8" lengthAdjust="spacingAndGlyphs">18,1%</text>
<text x="720.00" y="129.00" class="r" font-size="21.5" text-anchor="start" textLength="34.0" lengthAdjust="spacingAndGlyphs">16%</text>
<text x="18.00" y="160.40" class="l" font-size="21.5" text-anchor="start" textLength="86.2" lengthAdjust="spacingAndGlyphs">prirodni plin</text>
<text x="434.25" y="160.40" class="b" font-size="21.5" text-anchor="start" textLength="41.2" lengthAdjust="spacingAndGlyphs">6,4%</text>
<text x="704.50" y="160.40" class="r" font-size="21.5" text-anchor="start" textLength="49.5" lengthAdjust="spacingAndGlyphs">15,8%</text>
<text x="18.00" y="191.40" class="l" font-size="21.5" text-anchor="start" textLength="85.5" lengthAdjust="spacingAndGlyphs">sirova nafta</text>
<text x="437.25" y="191.40" class="b" font-size="21.5" text-anchor="start" textLength="38.2" lengthAdjust="spacingAndGlyphs">3,1%</text>
<text x="713.75" y="191.40" class="r" font-size="21.5" text-anchor="start" textLength="40.2" lengthAdjust="spacingAndGlyphs">1,1 %</text>
<text x="309.70" y="284.20" class="b" font-size="21.2" text-anchor="start" textLength="341.5" lengthAdjust="spacingAndGlyphs">POTROŠNJA ENERGIJA PO SEKTORIMA,</text>
<text x="309.70" y="310.20" class="b" font-size="21.2" text-anchor="start" textLength="78.3" lengthAdjust="spacingAndGlyphs">EU, 2021.</text>
<path d="M467.50,424.50 L473.04,347.20 A77.5,77.5 0 0 1 541.00,449.09 Z" fill="#e0861c" stroke="#fff" stroke-width="1.1" stroke-linejoin="round"/>
<path d="M467.50,424.50 L541.00,449.09 A77.5,77.5 0 0 1 429.57,492.09 Z" fill="#eca75f" stroke="#fff" stroke-width="1.1" stroke-linejoin="round"/>
<path d="M467.50,424.50 L429.57,492.09 A77.5,77.5 0 0 1 402.43,382.40 Z" fill="#f3c38e" stroke="#fff" stroke-width="1.1" stroke-linejoin="round"/>
<path d="M467.50,424.50 L402.43,382.40 A77.5,77.5 0 0 1 458.46,347.53 Z" fill="#f6cfa5" stroke="#fff" stroke-width="1.1" stroke-linejoin="round"/>
<path d="M467.50,424.50 L458.46,347.53 A77.5,77.5 0 0 1 473.04,347.20 Z" fill="#fae7d2" stroke="#fff" stroke-width="1.1" stroke-linejoin="round"/>
<text x="498.75" y="411.20" class="b" font-size="16.8" text-anchor="start" textLength="28.8" lengthAdjust="spacingAndGlyphs">29%</text>
<text x="469.50" y="466.20" class="b" font-size="16.8" text-anchor="start" textLength="28.5" lengthAdjust="spacingAndGlyphs">28%</text>
<text x="410.50" y="435.70" class="b" font-size="16.8" text-anchor="start" textLength="29.0" lengthAdjust="spacingAndGlyphs">26%</text>
<text x="427.00" y="393.70" class="b" font-size="16.8" text-anchor="start" textLength="27.2" lengthAdjust="spacingAndGlyphs">14%</text>
<text x="460.75" y="367.00" class="b" font-size="16.8" text-anchor="start" textLength="19.8" lengthAdjust="spacingAndGlyphs">3%</text>
<text x="342.20" y="359.40" class="l" font-size="19.6" text-anchor="start" textLength="53.6" lengthAdjust="spacingAndGlyphs">usluge</text>
<text x="462.20" y="317.50" class="l" font-size="19.6" text-anchor="start" textLength="107.6" lengthAdjust="spacingAndGlyphs">poljoprivreda</text>
<text x="462.90" y="338.00" class="l" font-size="19.6" text-anchor="start" textLength="92.0" lengthAdjust="spacingAndGlyphs">i šumarstvo</text>
<text x="545.30" y="375.00" class="l" font-size="19.6" text-anchor="start" textLength="74.2" lengthAdjust="spacingAndGlyphs">transport</text>
<text x="560.00" y="482.50" class="l" font-size="19.6" text-anchor="start" textLength="81.0" lengthAdjust="spacingAndGlyphs">kućanstva</text>
<text x="315.10" y="478.20" class="l" font-size="19.6" text-anchor="start" textLength="75.2" lengthAdjust="spacingAndGlyphs">industrija</text>
<path d="M381.2,365.7 H423.4 V374.5" fill="none" stroke="#2a2a2a" stroke-width="1.6"/>
<path d="M508.8,342 H463 V351" fill="none" stroke="#2a2a2a" stroke-width="1.6"/>
<path d="M566.2,380.7 H520.5 V390.7" fill="none" stroke="#2a2a2a" stroke-width="1.6"/>
<path d="M518.8,470 V487.5 H586.8" fill="none" stroke="#2a2a2a" stroke-width="1.6"/>
<path d="M347,483.2 H414.8 V465.5" fill="none" stroke="#2a2a2a" stroke-width="1.6"/>
</svg></body></html>
